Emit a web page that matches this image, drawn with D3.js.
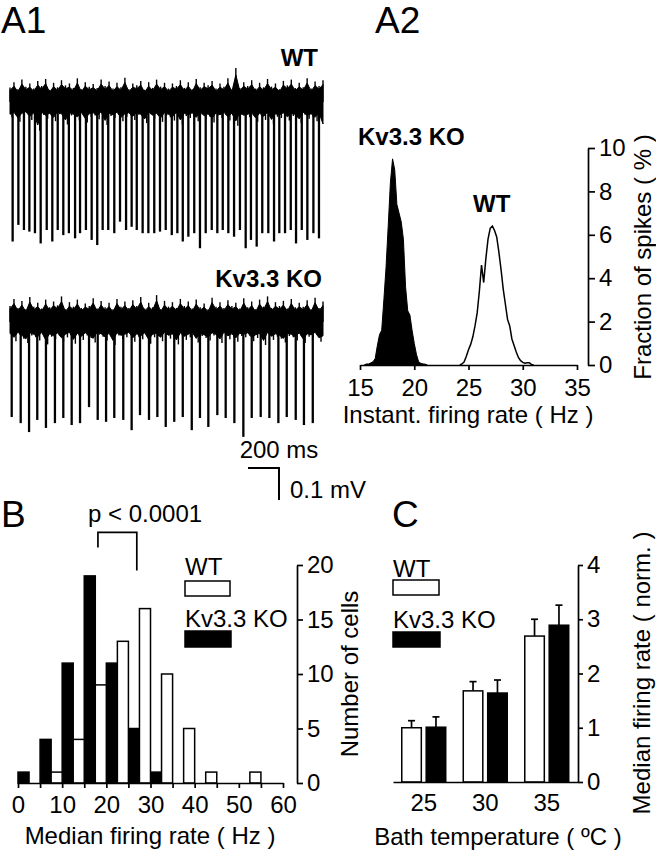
<!DOCTYPE html>
<html>
<head>
<meta charset="utf-8">
<script src="https://cdn.jsdelivr.net/npm/d3@7"></script>
<style>
body { margin: 0; background: #fff; }
svg text { font-family: "Liberation Sans", Arial, sans-serif; fill: #000; }
</style>
</head>
<body>
<svg id="fig" width="656" height="852"></svg>
<script>
// ---------- A1 : extracellular traces (time in ms, amplitude in µV) ----------
var wtSpikeT = [17,54,90,125,161,198,237,273,308,344,380,420,452,490,527,563,598,634,673,710,
	749,785,818,856,893,931,968,1005,1044,1080,1115,1151,1189,1226,1263,1302,1338,1373,1409,1446,
	1484,1521,1555,1592,1628,1667,1704,1738,1775,1812,1846,1883,1919,1958,1994];
var wtSpikeDepth = [436,384,400,405,410,442,400,436,400,416,410,426,410,400,431,447,400,400,410,374,
	400,390,400,410,410,410,405,400,416,410,436,421,410,457,410,400,410,400,410,421,
	400,457,431,452,410,410,436,410,410,400,442,400,431,410,426];
var koSpikeT = [11,69,123,176,232,290,344,398,452,510,566,620,673,731,785,839,897,951,1005,1060,
	1115,1173,1226,1280,1338,1392,1448,1506,1560,1618,1674,1732,1786,1844,1897,1954];
var koSpikeDepth = [297,316,344,306,331,316,300,322,316,266,306,312,300,306,338,291,306,297,328,312,
	297,338,300,328,291,300,316,359,300,297,300,316,297,306,322,316];

// noise envelope of the baseline (upper and lower edge), µV
var wtNoiseTop = [45,62,40,70,48,58,42,66,50,72,38,60,46,68,52,58,44,74,40,62,48,56,44,70,50,64,42,60,46,76,
	40,58,52,66,38,62,44,70,48,60,42,58,50,68,44,62,40,72,46,60,52,66,42,58,48,74,40,106,44,62,
	50,68,42,60,46,72,48,58,40,66,52,70,44,60,46,74,42,64,50,68];
var wtNoiseBot = [-48,-40,-62,-44,-38,-56,-42,-90,-40,-52,-44,-60,-38,-46,-70,-42,-48,-58,-40,-64,
	-46,-42,-54,-38,-72,-44,-50,-40,-60,-46,-42,-56,-40,-48,-66,-38,-52,-44,-62,-42,
	-48,-58,-40,-70,-44,-50,-42,-60,-38,-54,-46,-64,-42,-50,-40,-58,-44,-74,-40,-52,
	-48,-42,-62,-44,-56,-40,-68,-46,-50,-42,-58,-44,-48,-66,-40,-52,-46,-60,-42,-86];
var koNoiseTop = [50,72,44,66,40,78,48,60,42,70,46,64,52,80,40,62,48,70,44,58,50,74,42,66,46,60,40,72,48,64,
	44,68,50,78,42,60,46,84,40,66,48,62,44,72,50,64,42,70,46,58,40,76,48,62,44,68,50,60,42,74,
	46,64,40,70,48,80,44,62,50,66,42,72,46,60,48,68,40,76,44,64];
var koNoiseBot = [-44,-60,-40,-52,-66,-42,-48,-58,-40,-70,-46,-54,-42,-62,-48,-40,-68,-44,-56,-42,
	-50,-64,-40,-46,-58,-44,-72,-42,-52,-48,-40,-62,-46,-54,-42,-68,-48,-44,-60,-40,
	-52,-46,-70,-42,-56,-48,-40,-64,-44,-50,-58,-42,-48,-66,-40,-54,-46,-62,-44,-48,
	-42,-60,-50,-44,-72,-40,-56,-46,-52,-64,-44,-48,-58,-42,-66,-46,-50,-40,-62,-54];

// ---------- A2 : instantaneous firing rate distributions ----------
var koHz = [15.4,15.6,15.8,16.0,16.2,16.4,16.6,16.8,17.0,17.2,17.4,17.6,17.8,18.0,18.2,18.4,18.6,18.8,19.0,19.2,
	19.4,19.6,19.8,20.0,20.2,20.4,20.6,20.8,21.0,21.2];
var koFrac = [0,0.05,0.05,0.1,0.15,0.3,0.9,1.4,1.6,3.0,4.5,6.4,8.4,9.5,9.0,7.4,7.0,6.6,5.8,3.6,
	2.5,2.3,1.6,1.0,0.5,0.15,0.08,0.05,0.04,0];
var wtHz = [24.2,24.4,24.6,24.8,25.0,25.2,25.4,25.6,25.8,26.0,26.2,26.4,26.6,26.8,27.0,27.2,27.4,27.6,27.8,28.0,
	28.2,28.4,28.6,28.8,29.0,29.2,29.4,29.6,29.8,30.0,30.2,30.4,30.6,30.8,31.0];
var wtFrac = [0,0.05,0.15,0.4,0.7,0.95,1.3,1.8,2.4,3.4,4.6,3.8,4.9,5.8,6.3,6.4,6.2,5.9,5.2,4.4,
	3.5,2.8,2.1,1.8,1.2,0.9,0.6,0.35,0.2,0.12,0.08,0.1,0.1,0.03,0];
var a2XTicks = [15,20,25,30,35];
var a2YTicks = [0,2,4,6,8,10];

// ---------- B : median firing rate histogram ----------
var binStart = [0,5,10,15,20,25,30,35,40,45,50,55];
var koCells = [1,4,11,19,11,5,1,0,0,0,0,0];
var wtCells = [0,1,4,9,13,16,10,5,1,0,1,0];
var bXTicks = [0,5,10,15,20,25,30,35,40,45,50,55,60];
var bYTicks = [0,5,10,15,20];
var koMedian = 18.1, wtMedian = 26.9;

// ---------- C : temperature dependence ----------
var temps = [25,30,35];
var wtNorm = [1.0,1.68,2.69];
var wtSem = [0.13,0.17,0.31];
var koNorm = [1.01,1.64,2.89];
var koSem = [0.19,0.24,0.37];
var cYTicks = [0,1,2,3,4];

var FS = 24;
var svg = d3.select("#fig");

function txt(x, y, s, size, anchor, weight) {
	return svg.append("text").attr("x", x).attr("y", y)
		.attr("font-size", size || FS)
		.attr("text-anchor", anchor || "start")
		.attr("font-weight", weight || "normal")
		.text(s);
}
function vtxt(x, y, s) {
	return svg.append("text").attr("transform", "translate(" + x + "," + y + ") rotate(-90)")
		.attr("font-size", FS).attr("text-anchor", "middle").text(s);
}
function styleAxis(g) {
	g.attr("font-size", FS).attr("font-family", "Liberation Sans, Arial, sans-serif");
	g.selectAll("path.domain, line").attr("stroke", "#000").attr("stroke-width", 1.7);
	g.selectAll("text").attr("fill", "#000");
}

// panel letters
txt(1, 33, "A1", 37);
txt(375, 33, "A2", 37);
txt(1, 527, "B", 37);
txt(392, 527, "C", 37);

// ---------- A1 ----------
var xT = d3.scaleLinear().domain([0, 2020]).range([10, 323]);
var xEnv = d3.scaleLinear().domain([0, wtNoiseTop.length - 1]).range(xT.range());

function drawTrace(yMid, top, bot, spikeT, spikeD) {
	var yv = d3.scaleLinear().domain([-500, 500]).range([yMid + 160, yMid - 160]);
	var n = top.length;
	var g = svg.append("g");
	// dense core of the noise
	g.append("path")
		.attr("d", d3.area().x(function(d, i) { return xEnv(i); })
			.y0(function(d, i) { return yv(bot[i] * 0.8); })
			.y1(function(d) { return yv(d * 0.8); })(top))
		.attr("fill", "#000").attr("stroke", "#000").attr("stroke-width", 1);
	// noise needles
	g.selectAll("line.up").data(top).enter().append("line")
		.attr("x1", function(d, i) { return xEnv(i); }).attr("x2", function(d, i) { return xEnv(i); })
		.attr("y1", yv(0)).attr("y2", function(d) { return yv(d); })
		.attr("stroke", "#000").attr("stroke-width", 1.4);
	g.selectAll("line.dn").data(bot.slice(0, n - 1)).enter().append("line")
		.attr("x1", function(d, i) { return xEnv(i + 0.5); }).attr("x2", function(d, i) { return xEnv(i + 0.5); })
		.attr("y1", yv(0)).attr("y2", function(d) { return yv(d); })
		.attr("stroke", "#000").attr("stroke-width", 1.4);
	g.selectAll("line.spk").data(spikeT).enter().append("line")
		.attr("x1", function(d) { return xT(d); }).attr("x2", function(d) { return xT(d); })
		.attr("y1", yv(20))
		.attr("y2", function(d, i) { return yv(-spikeD[i]); })
		.attr("stroke", "#000").attr("stroke-width", 2.3);
	return yv;
}
var yvWT = drawTrace(102, wtNoiseTop, wtNoiseBot, wtSpikeT, wtSpikeDepth);
drawTrace(322, koNoiseTop, koNoiseBot, koSpikeT, koSpikeDepth);
txt(318, 66, "WT", FS, "end", "bold");
txt(322, 287, "Kv3.3 KO", FS, "end", "bold");

// scale bar 200 ms / 0.1 mV
var sbX = 248, sbY = 468;
var sbW = xT(200) - xT(0), sbH = yvWT(-100) - yvWT(0);
svg.append("path")
	.attr("d", "M" + sbX + "," + sbY + "H" + (sbX + sbW) + "V" + (sbY + sbH))
	.attr("fill", "none").attr("stroke", "#000").attr("stroke-width", 2);
txt(sbX + sbW, 458, "200 ms", FS, "middle");
txt(sbX + sbW + 11, 498, "0.1 mV", FS);

// ---------- A2 ----------
var xA = d3.scaleLinear().domain([15, 35]).range([360, 577]);
var yA = d3.scaleLinear().domain([0, 10]).range([365, 148]);
svg.append("path")
	.attr("d", d3.area().x(function(d, i) { return xA(koHz[i]); }).y0(yA(0)).y1(function(d) { return yA(d); })(koFrac))
	.attr("fill", "#000").attr("stroke", "#000").attr("stroke-width", 1);
svg.append("path")
	.attr("d", d3.line().x(function(d, i) { return xA(wtHz[i]); }).y(function(d) { return yA(d); })(wtFrac))
	.attr("fill", "#fff").attr("stroke", "#000").attr("stroke-width", 1.5);
styleAxis(svg.append("g").attr("transform", "translate(0," + yA(0) + ")")
	.call(d3.axisBottom(xA).tickValues(a2XTicks).tickSize(5).tickSizeOuter(0).tickPadding(9)));
styleAxis(svg.append("g").attr("transform", "translate(588,0)")
	.call(d3.axisRight(yA).tickValues(a2YTicks).tickSize(7).tickSizeOuter(0).tickPadding(4)));
txt(358, 145, "Kv3.3 KO", FS, "start", "bold");
txt(473, 212, "WT", FS, "start", "bold");
txt(468, 423, "Instant. firing rate ( Hz )", FS, "middle");
vtxt(651, 257, "Fraction of spikes ( % )");

// ---------- B ----------
var xB = d3.scaleLinear().domain([0, 60]).range([18, 283]);
var yB = d3.scaleLinear().domain([0, 20]).range([783, 565]);
var gB = svg.append("g");
gB.selectAll("rect.ko").data(binStart.filter(function(d, i) { return koCells[i] > 0; })).enter().append("rect")
	.attr("x", function(d) { return xB(d); })
	.attr("width", xB(2.5) - xB(0))
	.attr("y", function(d) { return yB(koCells[binStart.indexOf(d)]); })
	.attr("height", function(d) { return yB(0) - yB(koCells[binStart.indexOf(d)]); })
	.attr("fill", "#000").attr("stroke", "#000").attr("stroke-width", 1.5);
gB.selectAll("rect.wt").data(binStart.filter(function(d, i) { return wtCells[i] > 0; })).enter().append("rect")
	.attr("x", function(d) { return xB(d + 2.5); })
	.attr("width", xB(2.5) - xB(0))
	.attr("y", function(d) { return yB(wtCells[binStart.indexOf(d)]); })
	.attr("height", function(d) { return yB(0) - yB(wtCells[binStart.indexOf(d)]); })
	.attr("fill", "#fff").attr("stroke", "#000").attr("stroke-width", 1.5);
styleAxis(svg.append("g").attr("transform", "translate(0," + yB(0) + ")")
	.call(d3.axisBottom(xB).tickValues(bXTicks).tickSize(5).tickSizeOuter(0).tickPadding(8)
		.tickFormat(function(d) { return d % 10 === 0 ? d : ""; })));
styleAxis(svg.append("g").attr("transform", "translate(297,0)")
	.call(d3.axisRight(yB).tickValues(bYTicks).tickSize(6).tickSizeOuter(0).tickPadding(4)));
txt(150, 844, "Median firing rate ( Hz )", FS, "middle");
vtxt(358, 674, "Number of cells");
// significance bracket
svg.append("path")
	.attr("d", "M" + xB(koMedian) + "," + yB(21.6) + "V" + yB(23) + "H" + xB(wtMedian) + "V" + yB(19.5))
	.attr("fill", "none").attr("stroke", "#000").attr("stroke-width", 1.7);
txt(88, 522, "p < 0.0001");
// legend
txt(185, 575, "WT");
svg.append("rect").attr("x", 185).attr("y", 581).attr("width", 45).attr("height", 15)
	.attr("fill", "#fff").attr("stroke", "#000").attr("stroke-width", 1.5);
txt(185, 627, "Kv3.3 KO");
svg.append("rect").attr("x", 185).attr("y", 631).attr("width", 46).attr("height", 16)
	.attr("fill", "#000").attr("stroke", "#000").attr("stroke-width", 1.5);

// ---------- C ----------
var xC = d3.scaleBand().domain(temps).range([393, 577.5]).paddingInner(0.285).paddingOuter(0.1425);
var xSub = d3.scaleBand().domain(["WT", "KO"]).range([0, xC.bandwidth()]).paddingInner(0.2);
var yC = d3.scaleLinear().domain([0, 4]).range([782, 565]);
var groups = [
	{ key: "WT", mean: wtNorm, sem: wtSem, fill: "#fff" },
	{ key: "KO", mean: koNorm, sem: koSem, fill: "#000" }
];
groups.forEach(function(s) {
	var g = svg.append("g");
	temps.forEach(function(t, i) {
		var x0 = xC(t) + xSub(s.key), w = xSub.bandwidth(), cx = x0 + w / 2;
		g.append("line").attr("x1", cx).attr("x2", cx)
			.attr("y1", yC(s.mean[i])).attr("y2", yC(s.mean[i] + s.sem[i]))
			.attr("stroke", "#000").attr("stroke-width", 1.7);
		g.append("line").attr("x1", cx - 3.5).attr("x2", cx + 3.5)
			.attr("y1", yC(s.mean[i] + s.sem[i])).attr("y2", yC(s.mean[i] + s.sem[i]))
			.attr("stroke", "#000").attr("stroke-width", 1.7);
		g.append("rect").attr("x", x0).attr("width", w)
			.attr("y", yC(s.mean[i])).attr("height", yC(0) - yC(s.mean[i]))
			.attr("fill", s.fill).attr("stroke", "#000").attr("stroke-width", 1.5);
	});
});
styleAxis(svg.append("g").attr("transform", "translate(0," + yC(0) + ")")
	.call(d3.axisBottom(xC).tickSize(0).tickPadding(12)));
styleAxis(svg.append("g").attr("transform", "translate(578,0)")
	.call(d3.axisRight(yC).tickValues(cYTicks).tickFormat(d3.format("d")).tickSize(5).tickSizeOuter(0).tickPadding(4)));
txt(498, 845, "Bath temperature ( ºC )", FS, "middle");
vtxt(650, 673, "Median firing rate ( norm. )");
txt(393, 577, "WT");
svg.append("rect").attr("x", 393).attr("y", 580).attr("width", 46).attr("height", 15)
	.attr("fill", "#fff").attr("stroke", "#000").attr("stroke-width", 1.5);
txt(393, 628, "Kv3.3 KO");
svg.append("rect").attr("x", 393).attr("y", 632).attr("width", 47).attr("height", 15)
	.attr("fill", "#000").attr("stroke", "#000").attr("stroke-width", 1.5);
</script>
</body>
</html>
